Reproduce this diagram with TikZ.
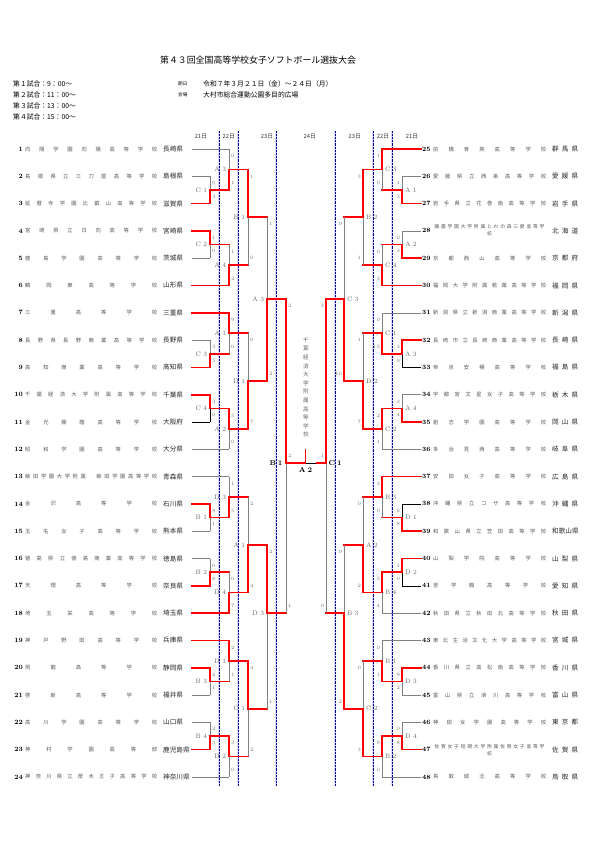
\documentclass[tikz,border=0pt]{standalone}
\usepackage{fontspec}
\newfontfamily\jp{Noto Sans CJK JP}
\newcommand\spreadtext[2]{\makebox[#1][l]{\expandafter\spreadfirst#2\relax}}
\def\spreadfirst#1{#1\spreadrest}
\def\spreadrest#1{\ifx#1\relax\else\hfill#1\expandafter\spreadrest\fi}
\tikzset{
  win/.style={draw=red, line width=1.7pt, line cap=rect},
  lose/.style={draw=black!50, line width=0.6pt},
  blk/.style={draw=black, line width=0.6pt},
  dayband/.style={draw=blue!15, line width=1.8pt},
  dayline/.style={draw=blue!55!black, line width=0.45pt, densely dotted},
  num/.style={font=\bfseries\fontsize{6.5}{7}\selectfont, inner sep=0pt},
  school/.style={font=\jp\fontsize{5.3}{6}\selectfont, text=black!65, inner sep=0pt, anchor=west},
  schooltwo/.style={font=\jp\fontsize{4.8}{6.6}\selectfont, text=black!65, inner sep=0pt, align=center},
  pref/.style={font=\jp\fontsize{6.6}{7}\selectfont, text=black!85, inner sep=0pt, anchor=west},
  score/.style={font=\fontsize{5}{5}\selectfont, text=black!55, inner sep=0.3pt},
  mlbl/.style={font=\fontsize{6.5}{6.5}\selectfont, text=black!60, inner sep=0.3pt},
  fin/.style={font=\bfseries\fontsize{7}{7}\selectfont, inner sep=0.3pt},
  day/.style={font=\jp\fontsize{5.8}{6}\selectfont, text=black!80, inner sep=0pt},
  title/.style={font=\jp\fontsize{8.9}{10}\selectfont},
  info/.style={font=\jp\fontsize{6.8}{7}\selectfont, inner sep=0pt},
  infosmall/.style={font=\jp\fontsize{4.6}{5}\selectfont, inner sep=0pt}
}
\begin{document}
\begin{tikzpicture}[x=1pt,y=-1pt]
    \fill[white] (0,0) rectangle (595,842);
    \useasboundingbox (0,0) rectangle (595,842);

    \node[title] (title) at (258,60) {第４３回全国高等学校女子ソフトボール選抜大会};
    \foreach \k/\h/\y in {１/9/84,２/11/95,３/13/106,４/15/117}{
      \node[info, anchor=west] (time\h) at (13,\y) {第\k 試合：\h：00～};
    }
    \node[infosmall, anchor=west] (datelbl) at (178,84) {期日};
    \node[info, anchor=west] (date) at (203,84) {令和７年３月２１日（金）～２４日（月）};
    \node[infosmall, anchor=west] (venuelbl) at (178,95) {会場};
    \node[info, anchor=west] (venue) at (203,95) {大村市総合運動公園多目的広場};

    \foreach \x in {219,238,276,335,373,392}{
      \draw[dayband] (\x,131) -- (\x,785);
      \draw[dayline] (\x,131) -- (\x,785);
    }
    \foreach \x/\dy [count=\k] in {201/21,228.8/22,267/23,309.7/24,354.7/23,383/22,412/21}{
      \node[day] (day\k) at (\x,136) {\dy 日};
    }

    \foreach \n/\xe/\col/\school/\pref [evaluate=\n as \y using {149+(\n-1)*27.3}] in {
        1/229/lose/向陽学園向陽高等学校/長崎県,
        2/210/lose/島根県立三刀屋高等学校/島根県,
        3/210/win/延暦寺学園比叡山高等学校/滋賀県,
        4/210/win/宮崎県立日向高等学校/宮崎県,
        5/210/lose/鹿島学園高等学校/茨城県,
        6/229/win/鶴岡東高等学校/山形県,
        7/229/win/三重高等学校/三重県,
        8/210/lose/長野県長野商業高等学校/長野県,
        9/210/win/高知商業高等学校/高知県,
        10/210/win/千葉経済大学附属高等学校/千葉県,
        11/210/blk/金光藤蔭高等学校/大阪府,
        12/229/lose/昭和学園高等学校/大分県,
        13/229/lose/柴田学園大学附属　柴田学園高等学校/青森県,
        14/210/win/金沢高等学校/石川県,
        15/210/lose/玉名女子高等学校/熊本県,
        16/210/lose/徳島県立徳島商業高等学校/徳島県,
        17/210/win/天理高等学校/奈良県,
        18/229/win/埼玉栄高等学校/埼玉県,
        19/229/win/神戸野田高等学校/兵庫県,
        20/210/win/飛龍高等学校/静岡県,
        21/210/lose/啓新高等学校/福井県,
        22/210/lose/高川学園高等学校/山口県,
        23/210/win/神村学園高等部/鹿児島県,
        24/229/lose/神奈川県立厚木王子高等学校/神奈川県}{
      \node[num, anchor=east] (n\n) at (23,\y) {\n};
      \node[school] (s\n) at (25,\y) {\spreadtext{132pt}{\school}};
      \node[pref] (p\n) at (163,\y) {\pref};
      \draw[\col] (192,\y) -- (\xe,\y);
    }

    \foreach \n/\xe/\col/\school/\pref [evaluate=\n as \y using {149+(\n-25)*27.3}] in {
        25/382/win/前橋育英高等学校/群馬県,
        26/402/lose/愛媛県立西条高等学校/愛媛県,
        27/402/win/岩手県立花巻南高等学校/岩手県,
        29/402/win/京都西山高等学校/京都府,
        30/382/win/福岡大学附属若葉高等学校/福岡県,
        31/382/lose/新潟県立新潟商業高等学校/新潟県,
        32/402/win/長崎市立長崎商業高等学校/長崎県,
        33/402/blk/帝京安積高等学校/福島県,
        34/402/lose/宇都宮文星女子高等学校/栃木県,
        35/402/win/創志学園高等学校/岡山県,
        36/382/lose/多治見西高等学校/岐阜県,
        37/382/win/安田女子高等学校/広島県,
        38/402/blk/沖縄県立コザ高等学校/沖縄県,
        39/402/win/和歌山県立笠田高等学校/和歌山県,
        40/402/win/山梨学院高等学校/山梨県,
        41/402/blk/至学館高等学校/愛知県,
        42/382/lose/秋田県立秋田北高等学校/秋田県,
        43/382/lose/東北生活文化大学高等学校/宮城県,
        44/402/win/香川県立高松南高等学校/香川県,
        45/402/lose/富山県立滑川高等学校/富山県,
        46/402/lose/神田女学園高等学校/東京都,
        48/382/lose/鳥取城北高等学校/鳥取県}{
      \node[num, anchor=west] (n\n) at (422,\y) {\n};
      \node[school] (s\n) at (433,\y) {\spreadtext{113pt}{\school}};
      \node[pref] (p\n) at (552,\y) {\spreadtext{26pt}{\pref}};
      \draw[\col] (421,\y) -- (\xe,\y);
    }
    \node[num, anchor=west] (n28) at (422,230.9) {28};
    \node[schooltwo] (s28) at (489.5,230.2) {\spreadtext{110pt}{酪農学園大学附属とわの森三愛高等学}\\校};
    \node[pref] (p28) at (552,230.9) {\spreadtext{26pt}{北海道}};
    \draw[lose] (421,230.9) -- (402,230.9);
    \node[num, anchor=west] (n47) at (422,749.6) {47};
    \node[schooltwo] (s47) at (489.5,749.9) {\spreadtext{110pt}{佐賀女子短期大学附属佐賀女子高等学}\\校};
    \node[pref] (p47) at (552,749.6) {\spreadtext{26pt}{佐賀県}};
    \draw[win] (421,749.6) -- (402,749.6);

    \foreach \x/\xo/\ya/\yb/\yj/\sta/\stb/\cola/\colb/\mk/\mn [count=\k] in {
        210/229/176.3/203.6/190.0/0/3/lose/win/C/1,
        229/248/149.0/190.0/169.5/0/1/lose/win/A/3,
        210/229/230.9/258.2/244.6/1/0/win/lose/C/2,
        229/248/244.6/285.5/265.0/1/4/lose/win/A/4,
        248/267/169.5/265.0/217.3/1/0/win/lose/B/1,
        210/229/340.1/367.4/353.8/3/5/lose/win/C/3,
        229/248/312.8/353.8/333.3/9/0/win/lose/A/1,
        210/229/394.7/422.0/408.4/3/0/win/blk/C/4,
        229/248/408.4/449.3/428.8/5/0/win/lose/A/2,
        248/267/333.3/428.8/381.1/0/7/lose/win/D/1,
        210/229/503.9/531.2/517.6/8/1/win/lose/B/1,
        229/248/476.6/517.6/497.1/1/5/lose/win/D/3,
        210/229/558.5/585.8/572.2/0/8/lose/win/B/2,
        229/248/572.2/613.1/592.6/0/7/lose/win/D/4,
        248/267/497.1/592.6/544.9/2/4/lose/win/A/1,
        210/229/667.7/695.0/681.4/2/1/win/lose/B/3,
        229/248/640.4/681.4/660.9/2/1/win/lose/D/1,
        210/229/722.3/749.6/736.0/2/3/lose/win/B/4,
        229/248/736.0/776.9/756.4/3/0/win/lose/D/2,
        248/267/660.9/756.4/708.7/4/2/win/lose/C/1,
        267/286/217.3/381.1/299.2/1/2/lose/win/A/3,
        267/286/544.9/708.7/613.0/2/1/win/lose/D/3}{
      \draw[\cola] (\x,\ya) -- (\x,\yj);
      \draw[\colb] (\x,\yb) -- (\x,\yj);
      \draw[win] (\x,\yj) -- (\xo,\yj);
      \node[score, anchor=west] (lsa\k) at ({\x+1.5},{\ya+7}) {\sta};
      \node[score, anchor=west] (lsb\k) at ({\x+1.5},{\yb-7}) {\stb};
      \node[mlbl, anchor=east] (lm\k) at ({\x-2.5},\yj) {\mk\hspace{2.5pt}\mn};
    }

    \foreach \x/\xo/\ya/\yb/\yj/\sta/\stb/\cola/\colb/\mk/\mn [count=\k] in {
        402/382/176.3/203.6/190.0/1/3/lose/win/A/1,
        382/363/149.0/190.0/169.5/1/0/win/lose/C/3,
        402/382/230.9/258.2/244.6/0/3/lose/win/A/2,
        382/363/244.6/285.5/265.0/0/3/lose/win/C/4,
        363/344/169.5/265.0/217.3/3/1/win/lose/B/2,
        402/382/340.1/367.4/353.8/3/0/win/blk/A/3,
        382/363/312.8/353.8/333.3/0/15/lose/win/C/1,
        402/382/394.7/422.0/408.4/3/4/lose/win/A/4,
        382/363/408.4/449.3/428.8/2/1/win/lose/C/2,
        363/344/333.3/428.8/381.1/1/7/lose/win/D/2,
        402/382/503.9/531.2/517.6/6/8/blk/win/D/1,
        382/363/476.6/517.6/497.1/3/0/win/lose/B/3,
        402/382/558.5/585.8/572.2/1/0/win/blk/D/2,
        382/363/572.2/613.1/592.6/5/4/win/lose/B/4,
        363/344/497.1/592.6/544.9/0/2/lose/win/A/2,
        402/382/667.7/695.0/681.4/9/2/win/lose/D/3,
        382/363/640.4/681.4/660.9/0/1/lose/win/B/1,
        402/382/722.3/749.6/736.0/0/8/lose/win/D/4,
        382/363/736.0/776.9/756.4/9/0/win/lose/B/2,
        363/344/660.9/756.4/708.7/0/3/lose/win/C/2,
        344/326/217.3/381.1/299.2/0/10/lose/win/C/3,
        344/326/544.9/708.7/613.0/0/2/lose/win/B/3}{
      \draw[\cola] (\x,\ya) -- (\x,\yj);
      \draw[\colb] (\x,\yb) -- (\x,\yj);
      \draw[win] (\x,\yj) -- (\xo,\yj);
      \node[score, anchor=east] (rsa\k) at ({\x-1.5},{\ya+7}) {\sta};
      \node[score, anchor=east] (rsb\k) at ({\x-1.5},{\yb-7}) {\stb};
      \node[mlbl, anchor=west] (rm\k) at ({\x+2.5},\yj) {\mk\hspace{2.5pt}\mn};
    }

    \draw[win] (286,299.2) -- (286,463);
    \draw[lose] (286,613) -- (286,463);
    \node[score, anchor=west] (lsf1) at (287.5,306.2) {2};
    \node[score, anchor=west] (lsf2) at (287.5,606) {1};
    \node[score, anchor=west] (lfin) at (287.5,456) {2};
    \node[fin, anchor=east] (sfl) at (283,463) {B\hspace{2pt}1};

    \draw[win] (326,299.2) -- (326,463);
    \draw[lose] (326,613) -- (326,463);
    \node[score, anchor=east] (rsf1) at (324.5,306.2) {3};
    \node[score, anchor=east] (rsf2) at (324.5,606) {0};
    \node[score, anchor=east] (rfin) at (324.5,456) {1};
    \node[fin, anchor=west] (sfr) at (328,463) {C\hspace{2pt}1};

    \draw[win] (286,463) -- (305.5,463);
    \draw[win] (305.5,463) -- (305.5,450);
    \draw[blk] (305.5,463) -- (317,463);
    \draw[win] (317,463) -- (326,463);
    \node[fin] (final) at (305.5,470.5) {A\hspace{2pt}2};
    \node[font=\jp\fontsize{5.6}{8.6}\selectfont, text=black!60, align=center, inner sep=0pt] (champ) at (306,387.5)
      {千\\葉\\経\\済\\大\\学\\附\\属\\高\\等\\学\\校};
  \end{tikzpicture}
\end{document}
